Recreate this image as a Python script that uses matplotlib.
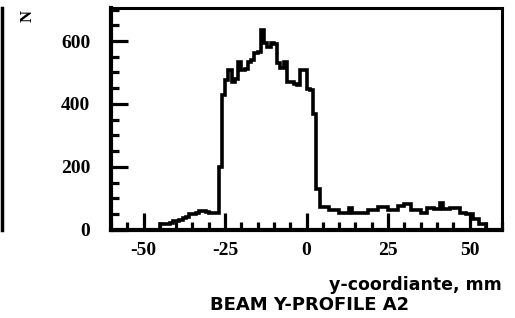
import numpy as np
import matplotlib
matplotlib.use("Agg")
import matplotlib.pyplot as plt
from matplotlib.ticker import MultipleLocator

# histogram, 1 mm bins starting at -45 mm
bin_start = -45
counts = [18, 18, 20, 22, 27, 27, 30, 37, 40, 50,
          50, 55, 59, 59, 57, 53, 53, 55, 200, 427,
          475, 507, 469, 480, 533, 507, 510, 533, 540, 561,
          565, 635, 593, 581, 593, 590, 529, 513, 533, 469,
          469, 465, 461, 507, 507, 449, 443, 369, 129, 72,
          72, 72, 62, 62, 62, 53, 53, 53, 69, 53,
          53, 55, 53, 53, 62, 62, 62, 72, 72, 72,
          62, 62, 62, 75, 75, 81, 81, 62, 62, 62,
          53, 53, 69, 69, 66, 66, 85, 66, 66, 69,
          69, 69, 53, 53, 50, 50, 34, 34, 18, 18]
edges = np.arange(bin_start, bin_start + len(counts) + 1)

xticks = [-50, -25, 0, 25, 50]
yticks = [0, 200, 400, 600]

fig = plt.figure(figsize=(5.15, 3.18), dpi=100)
ax = fig.add_axes([0.2155, 0.277, 0.7595, 0.698])

ax.stairs(counts, edges, color="black", linewidth=2.6)

ax.set_xlim(-60, 60)
ax.set_ylim(0, 705)
ax.xaxis.set_major_locator(MultipleLocator(25))
ax.xaxis.set_minor_locator(MultipleLocator(5))
ax.yaxis.set_major_locator(MultipleLocator(200))
ax.yaxis.set_minor_locator(MultipleLocator(50))
ax.tick_params(which="both", direction="in", width=2.3, top=False, right=False, color="black")
ax.tick_params(which="major", length=12)
ax.tick_params(which="minor", length=6)
ax.tick_params(axis="y", pad=15)
ax.tick_params(axis="x", pad=9)

tick_font = dict(family="Liberation Serif", weight="bold", size=14)
ax.set_xticks(xticks)
ax.set_xticklabels([str(v) for v in xticks], fontdict=tick_font)
ax.set_yticks(yticks)
ax.set_yticklabels([str(v) for v in yticks], fontdict=tick_font)

for side in ["left", "bottom"]:
    ax.spines[side].set_linewidth(3.0)
for side in ["top", "right"]:
    ax.spines[side].set_linewidth(2.2)

# axis titles
fig.text(0.053, 0.95, "N", rotation=90, ha="center", va="center",
         family="Liberation Serif", weight="bold", fontsize=12)
fig.text(0.975, 0.104, "y-coordiante, mm", ha="right", va="center",
         family="DejaVu Sans", weight="bold", fontsize=12.5)
fig.text(0.602, 0.04, "BEAM Y-PROFILE A2", ha="center", va="center",
         family="DejaVu Sans", weight="bold", fontsize=13)

# edge of neighbouring panel
fig.add_artist(plt.Line2D([0.003, 0.003], [0.277, 0.975], color="black",
                          linewidth=2.5, transform=fig.transFigure))

fig.savefig("out.png", dpi=100)
